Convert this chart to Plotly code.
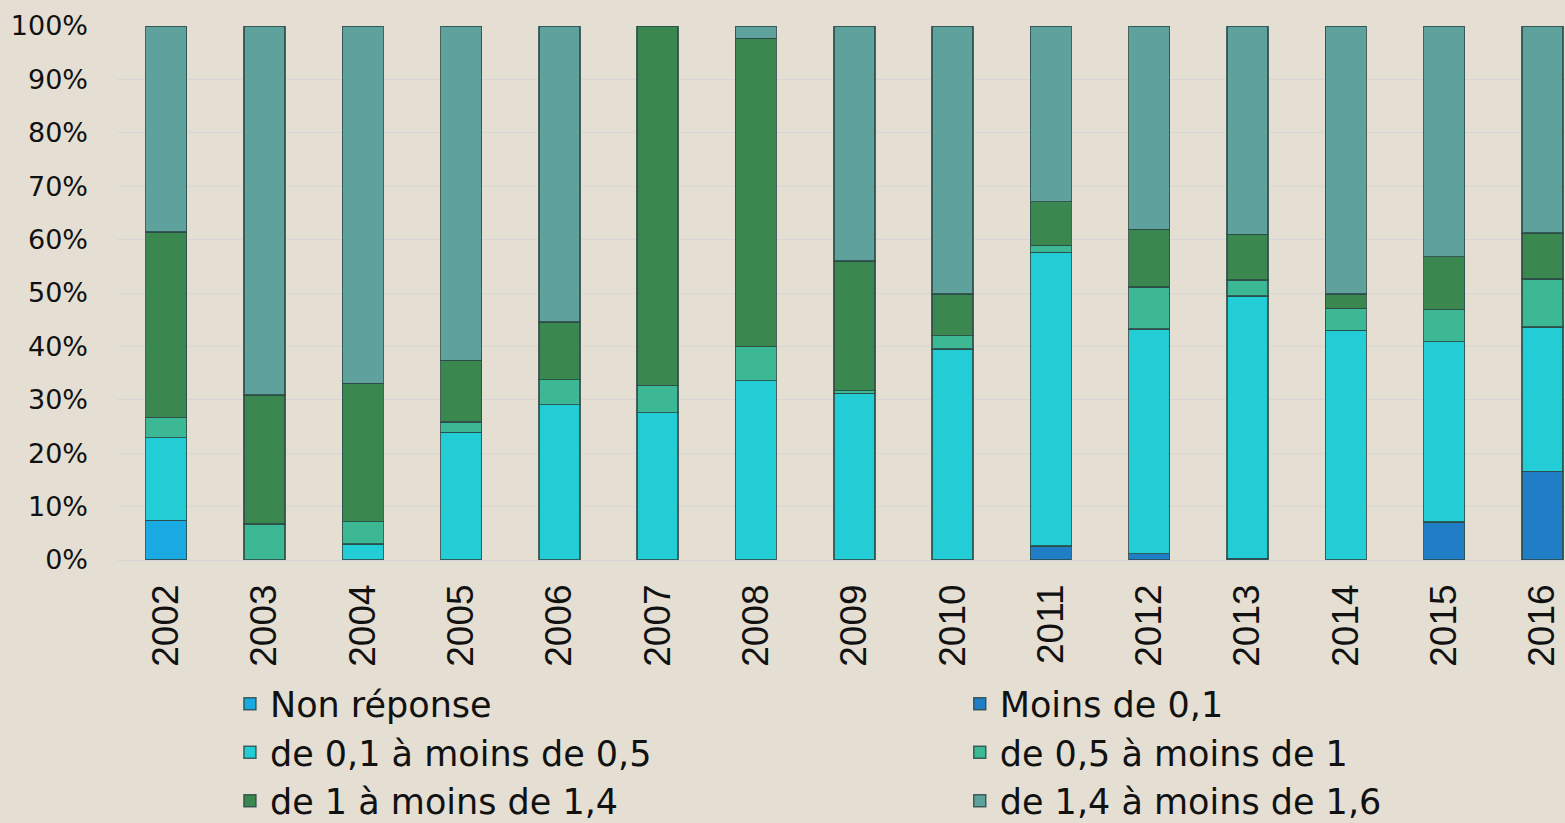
import plotly.graph_objects as go

years = ["2002", "2003", "2004", "2005", "2006", "2007", "2008", "2009",
         "2010", "2011", "2012", "2013", "2014", "2015", "2016"]

non_reponse = [7.4, 0, 0, 0, 0, 0, 0, 0, 0, 0, 0, 0, 0, 0, 0]
moins_01 = [0, 0, 0, 0, 0, 0, 0, 0, 0, 2.6, 1.2, 0.3, 0, 7.1, 16.6]
de_01_05 = [15.5, 0, 3.0, 23.9, 29.1, 27.6, 33.6, 31.2, 39.5, 55.0, 42.1, 49.1, 43.0, 33.8, 27.0]
de_05_1 = [3.8, 6.7, 4.2, 1.9, 4.7, 5.1, 6.4, 0.5, 2.5, 1.3, 7.8, 3.0, 4.1, 6.0, 9.0]
de_1_14 = [34.7, 24.2, 25.9, 11.6, 10.8, 67.3, 57.7, 24.3, 7.8, 8.2, 10.8, 8.6, 2.7, 9.9, 8.6]
de_14_16 = [38.6, 69.1, 66.9, 62.6, 55.4, 0, 2.3, 44.0, 50.2, 32.9, 38.1, 39.0, 50.2, 43.2, 38.8]

series_names = ["Non réponse", "Moins de 0,1", "de 0,1 à moins de 0,5",
                "de 0,5 à moins de 1", "de 1 à moins de 1,4", "de 1,4 à moins de 1,6"]
series_values = [non_reponse, moins_01, de_01_05, de_05_1, de_1_14, de_14_16]
series_colors = ["#1aa9e1", "#1f7ec6", "#22cdd6", "#3db894", "#3a8750", "#5fa19c"]
series_legend = ["legend", "legend2", "legend", "legend2", "legend", "legend2"]
y_ticks = [0, 10, 20, 30, 40, 50, 60, 70, 80, 90, 100]
y_tick_labels = [f"{v}%" for v in y_ticks]

fig = go.Figure()
for name, vals, col, leg in zip(series_names, series_values, series_colors, series_legend):
    fig.add_trace(go.Bar(
        x=years,
        y=[v if v > 0 else None for v in vals],
        name=name,
        legend=leg,
        marker=dict(color=col, line=dict(color="rgba(45,75,72,0.85)", width=1.5)),
    ))

legend_font = dict(family="DejaVu Sans", size=35, color="#111111")

fig.update_layout(
    barmode="stack",
    bargap=0.583,
    width=1565,
    height=823,
    paper_bgcolor="#e4ded3",
    plot_bgcolor="#e4ded3",
    margin=dict(l=117, r=0, t=26, b=263, autoexpand=False),
    font=dict(family="DejaVu Sans", color="#111111"),
    xaxis=dict(
        range=[-0.5, 14.23],
        tickangle=-90,
        tickfont=dict(family="Liberation Sans", size=37, color="#111111"),
        showgrid=False,
        showline=False,
        ticks="",
        ticklabelstandoff=16,
    ),
    yaxis=dict(
        range=[0, 100],
        tickvals=y_ticks,
        ticktext=y_tick_labels,
        tickfont=dict(family="DejaVu Sans", size=27, color="#111111"),
        showgrid=True,
        gridcolor="#d6d6d6",
        gridwidth=1,
        zeroline=True,
        zerolinecolor="#d6d6d6",
        zerolinewidth=1,
        showline=False,
        ticks="",
        ticklabelstandoff=28,
    ),
    legend=dict(
        orientation="v",
        x=0.078,
        y=-0.2144,
        xanchor="left",
        yanchor="top",
        font=legend_font,
        bgcolor="rgba(0,0,0,0)",
        traceorder="normal",
    ),
    legend2=dict(
        orientation="v",
        x=0.582,
        y=-0.2144,
        xanchor="left",
        yanchor="top",
        font=legend_font,
        bgcolor="rgba(0,0,0,0)",
        traceorder="normal",
    ),
)

fig.write_html("out.html", config={"displayModeBar": False},
               post_script="document.body.style.margin='0';")
